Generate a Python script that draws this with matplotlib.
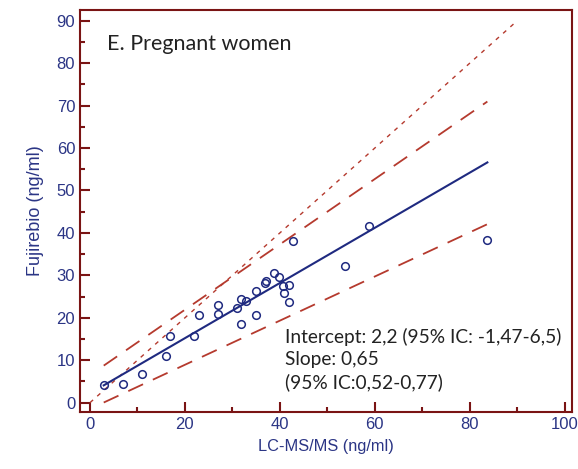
import numpy as np
import matplotlib.pyplot as plt
from matplotlib.ticker import MultipleLocator

# LC-MS/MS vs Fujirebio, pregnant women
lcms = [2.9, 7.0, 10.9, 16.0, 16.8, 22.0, 22.9, 26.9, 26.9, 30.9, 31.9, 31.9,
        32.8, 34.9, 34.9, 36.8, 37.0, 38.8, 39.9, 40.7, 40.8, 41.9, 41.9, 42.8,
        53.8, 58.8, 83.7]
fujirebio = [4.1, 4.5, 6.8, 11.0, 15.8, 15.6, 20.6, 23.1, 20.8, 22.3, 18.6, 24.5,
             24.0, 20.7, 26.4, 28.1, 28.6, 30.5, 29.7, 27.6, 25.8, 23.8, 27.8, 38.0,
             32.1, 41.6, 38.4]

intercept, slope = 2.2, 0.65
ci_low = (-1.47, 0.52)
ci_high = (6.5, 0.77)

navy = '#1f2a80'
red = '#b53a2e'
spine = '#7a1414'
label_col = '#2b3585'

fig = plt.figure(figsize=(5.78, 4.69), dpi=100)
ax = fig.add_axes([0.1384, 0.1215, 0.851, 0.857])

xr = np.array([min(lcms), max(lcms)])
ax.plot([0, 90], [0, 90], color=red, lw=1, ls=(0, (3, 4)))
ax.plot(xr, ci_high[0] + ci_high[1] * xr, color=red, lw=1.3, ls=(0, (9, 6)))
ax.plot(xr, ci_low[0] + ci_low[1] * xr, color=red, lw=1.3, ls=(0, (9, 6)))
ax.plot(xr, intercept + slope * xr, color=navy, lw=1.5)
ax.plot(lcms, fujirebio, 'o', mfc='none', mec=navy, ms=5.5, mew=1.1)

ax.set_xlim(-2.1, 101.5)
ax.set_ylim(-2.2, 92.5)
ax.xaxis.set_major_locator(MultipleLocator(20))
ax.xaxis.set_minor_locator(MultipleLocator(10))
ax.yaxis.set_major_locator(MultipleLocator(10))
ax.yaxis.set_minor_locator(MultipleLocator(5))
ax.tick_params(which='both', direction='in', color=spine, width=1.5,
               labelcolor=label_col, labelsize=12)
ax.tick_params(which='major', length=7.2)
ax.tick_params(which='minor', length=3.6)
for t in ax.get_xticklabels() + ax.get_yticklabels():
    t.set_family('Liberation Sans')
for s in ax.spines.values():
    s.set_color(spine)
    s.set_linewidth(1.5)

ax.set_xlabel('LC-MS/MS (ng/ml)', color=label_col, fontsize=11.8,
              family='Liberation Sans', labelpad=5)
ax.set_ylabel('Fujirebio (ng/ml)', color=label_col, fontsize=13,
              family='Liberation Sans', labelpad=9)

ax.text(3.5, 84.5, 'E. Pregnant women', fontsize=15.5, family='Lato',
        color='#222222', va='center')
ax.text(41.0, 17.6, 'Intercept: 2,2 (95% IC: -1,47-6,5)\nSlope: 0,65\n(95% IC:0,52-0,77)',
        fontsize=13.8, family='Lato', color='#222222', va='top', linespacing=1.35)

plt.savefig('out.png', dpi=100)
